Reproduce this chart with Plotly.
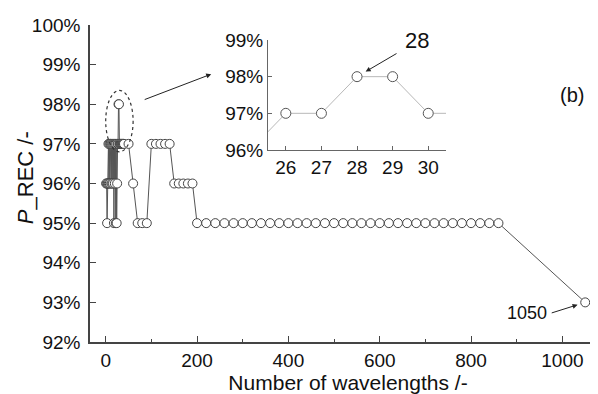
import plotly.graph_objects as go

# Main series: number of wavelengths vs P_REC (%)
wavelengths = list(range(1, 41)) + [50, 60, 70, 80, 90, 100, 110, 120, 130, 140,
                                     150, 160, 170, 180, 190] + list(range(200, 861, 20)) + [1050]
p_rec_first40 = [96, 96, 95, 96, 96, 97, 96, 97, 96, 97,
                 97, 96, 97, 96, 97, 96, 97, 95, 97, 96,
                 97, 95, 97, 95, 96, 97, 97, 98, 98, 97,
                 97, 97, 97, 97, 97, 97, 97, 97, 97, 97]
p_rec_mid = [97, 96, 95, 95, 95, 97, 97, 97, 97, 97, 96, 96, 96, 96, 96]
p_rec_tail = [95] * len(range(200, 861, 20)) + [93]
p_rec = p_rec_first40 + p_rec_mid + p_rec_tail

# Inset (zoom of 25..31)
inset_x = [25, 26, 27, 28, 29, 30, 31]
inset_y = [96, 97, 97, 98, 98, 97, 97]

x_ticks = [0, 200, 400, 600, 800, 1000]
y_ticks = [92, 93, 94, 95, 96, 97, 98, 99, 100]
inset_xticks = [26, 27, 28, 29, 30]
inset_yticks = [96, 97, 98, 99]

FONT = "Liberation Sans, Arial, sans-serif"
AX = "#444444"

fig = go.Figure()
fig.add_trace(go.Scatter(
    x=wavelengths, y=p_rec, mode="lines+markers",
    line=dict(color="#555555", width=1),
    marker=dict(symbol="circle", size=9, color="white",
                line=dict(color="#444444", width=1)),
    xaxis="x", yaxis="y", showlegend=False, cliponaxis=False))
fig.add_trace(go.Scatter(
    x=inset_x, y=inset_y, mode="lines+markers",
    line=dict(color="#b8b8b8", width=1),
    marker=dict(symbol="circle", size=10, color="white",
                line=dict(color="#555555", width=1)),
    xaxis="x2", yaxis="y2", showlegend=False))

fig.update_layout(
    width=598, height=394,
    margin=dict(l=82, r=0, t=17, b=60, autoexpand=False),
    paper_bgcolor="white", plot_bgcolor="white",
    font=dict(family=FONT, color="#111111", size=19),
    xaxis=dict(range=[-34.4, 1095.5], tickvals=x_ticks, ticks="inside", ticklen=6,
               tickcolor=AX, showline=True, linecolor=AX, linewidth=1.5,
               showgrid=False, zeroline=False, automargin=False,
               minor=dict(ticks="inside", ticklen=3, dtick=100, tickcolor=AX, showgrid=False),
               tickfont=dict(size=19),
               title=dict(text="Number of wavelengths /-", font=dict(size=21), standoff=0)),
    yaxis=dict(range=[92, 100], tickvals=y_ticks, ticktext=[f"{v}%" for v in y_ticks],
               ticks="inside", ticklen=6, tickcolor=AX, showline=True, linecolor=AX,
               linewidth=1.5, showgrid=False, zeroline=False, automargin=False,
               tickfont=dict(size=19), ticklabelstandoff=4),
    xaxis2=dict(domain=[0.345, 0.690], anchor="y2", range=[25.5, 30.5],
                tickvals=inset_xticks, ticks="inside", ticklen=4, tickcolor="#666",
                showline=True, linecolor="#666", linewidth=1, showgrid=False,
                zeroline=False, tickfont=dict(size=19), automargin=False),
    yaxis2=dict(domain=[0.6057, 0.9527], anchor="x2", range=[96, 99],
                tickvals=inset_yticks, ticktext=[f"{v}%" for v in inset_yticks],
                ticks="inside", ticklen=4, tickcolor="#666", showline=True,
                linecolor="#666", linewidth=1, showgrid=False, zeroline=False,
                tickfont=dict(size=19), automargin=False),
    shapes=[dict(type="circle", xref="x", yref="y", x0=0, x1=60, y0=96.8, y1=98.35,
                 line=dict(color="#333", width=1.2, dash="dot"))],
    annotations=[
        dict(text="<i>P</i>_REC /-", xref="paper", yref="paper", x=-0.126, y=0.52,
             xanchor="center", yanchor="middle", textangle=-90,
             showarrow=False, font=dict(size=22)),
        dict(text="(b)", xref="paper", yref="paper", x=0.934, y=0.779,
             xanchor="center", yanchor="middle",
             showarrow=False, font=dict(size=20)),
        dict(text="", x=28, y=98, xref="x2", yref="y2", ax=41, ay=-24,
             showarrow=True, arrowhead=2, arrowsize=1, arrowwidth=1, arrowcolor="#222",
             standoff=10),
        dict(text="28", x=28, y=98, xref="x2", yref="y2", xshift=60, yshift=36,
             xanchor="center", yanchor="middle",
             showarrow=False, font=dict(size=22)),
        dict(text="", x=1050, y=93, xref="x", yref="y", ax=-35, ay=11,
             showarrow=True, arrowhead=2, arrowsize=1, arrowwidth=1, arrowcolor="#222",
             standoff=8),
        dict(text="1050", x=1050, y=93, xref="x", yref="y", xshift=-58, yshift=-11,
             xanchor="center", yanchor="middle",
             showarrow=False, font=dict(size=18)),
        dict(text="", x=231, y=98.76, xref="x", yref="y", ax=-68, ay=26,
             showarrow=True, arrowhead=2, arrowsize=1, arrowwidth=1, arrowcolor="#222"),
    ],
)
fig.write_html("out.html")
